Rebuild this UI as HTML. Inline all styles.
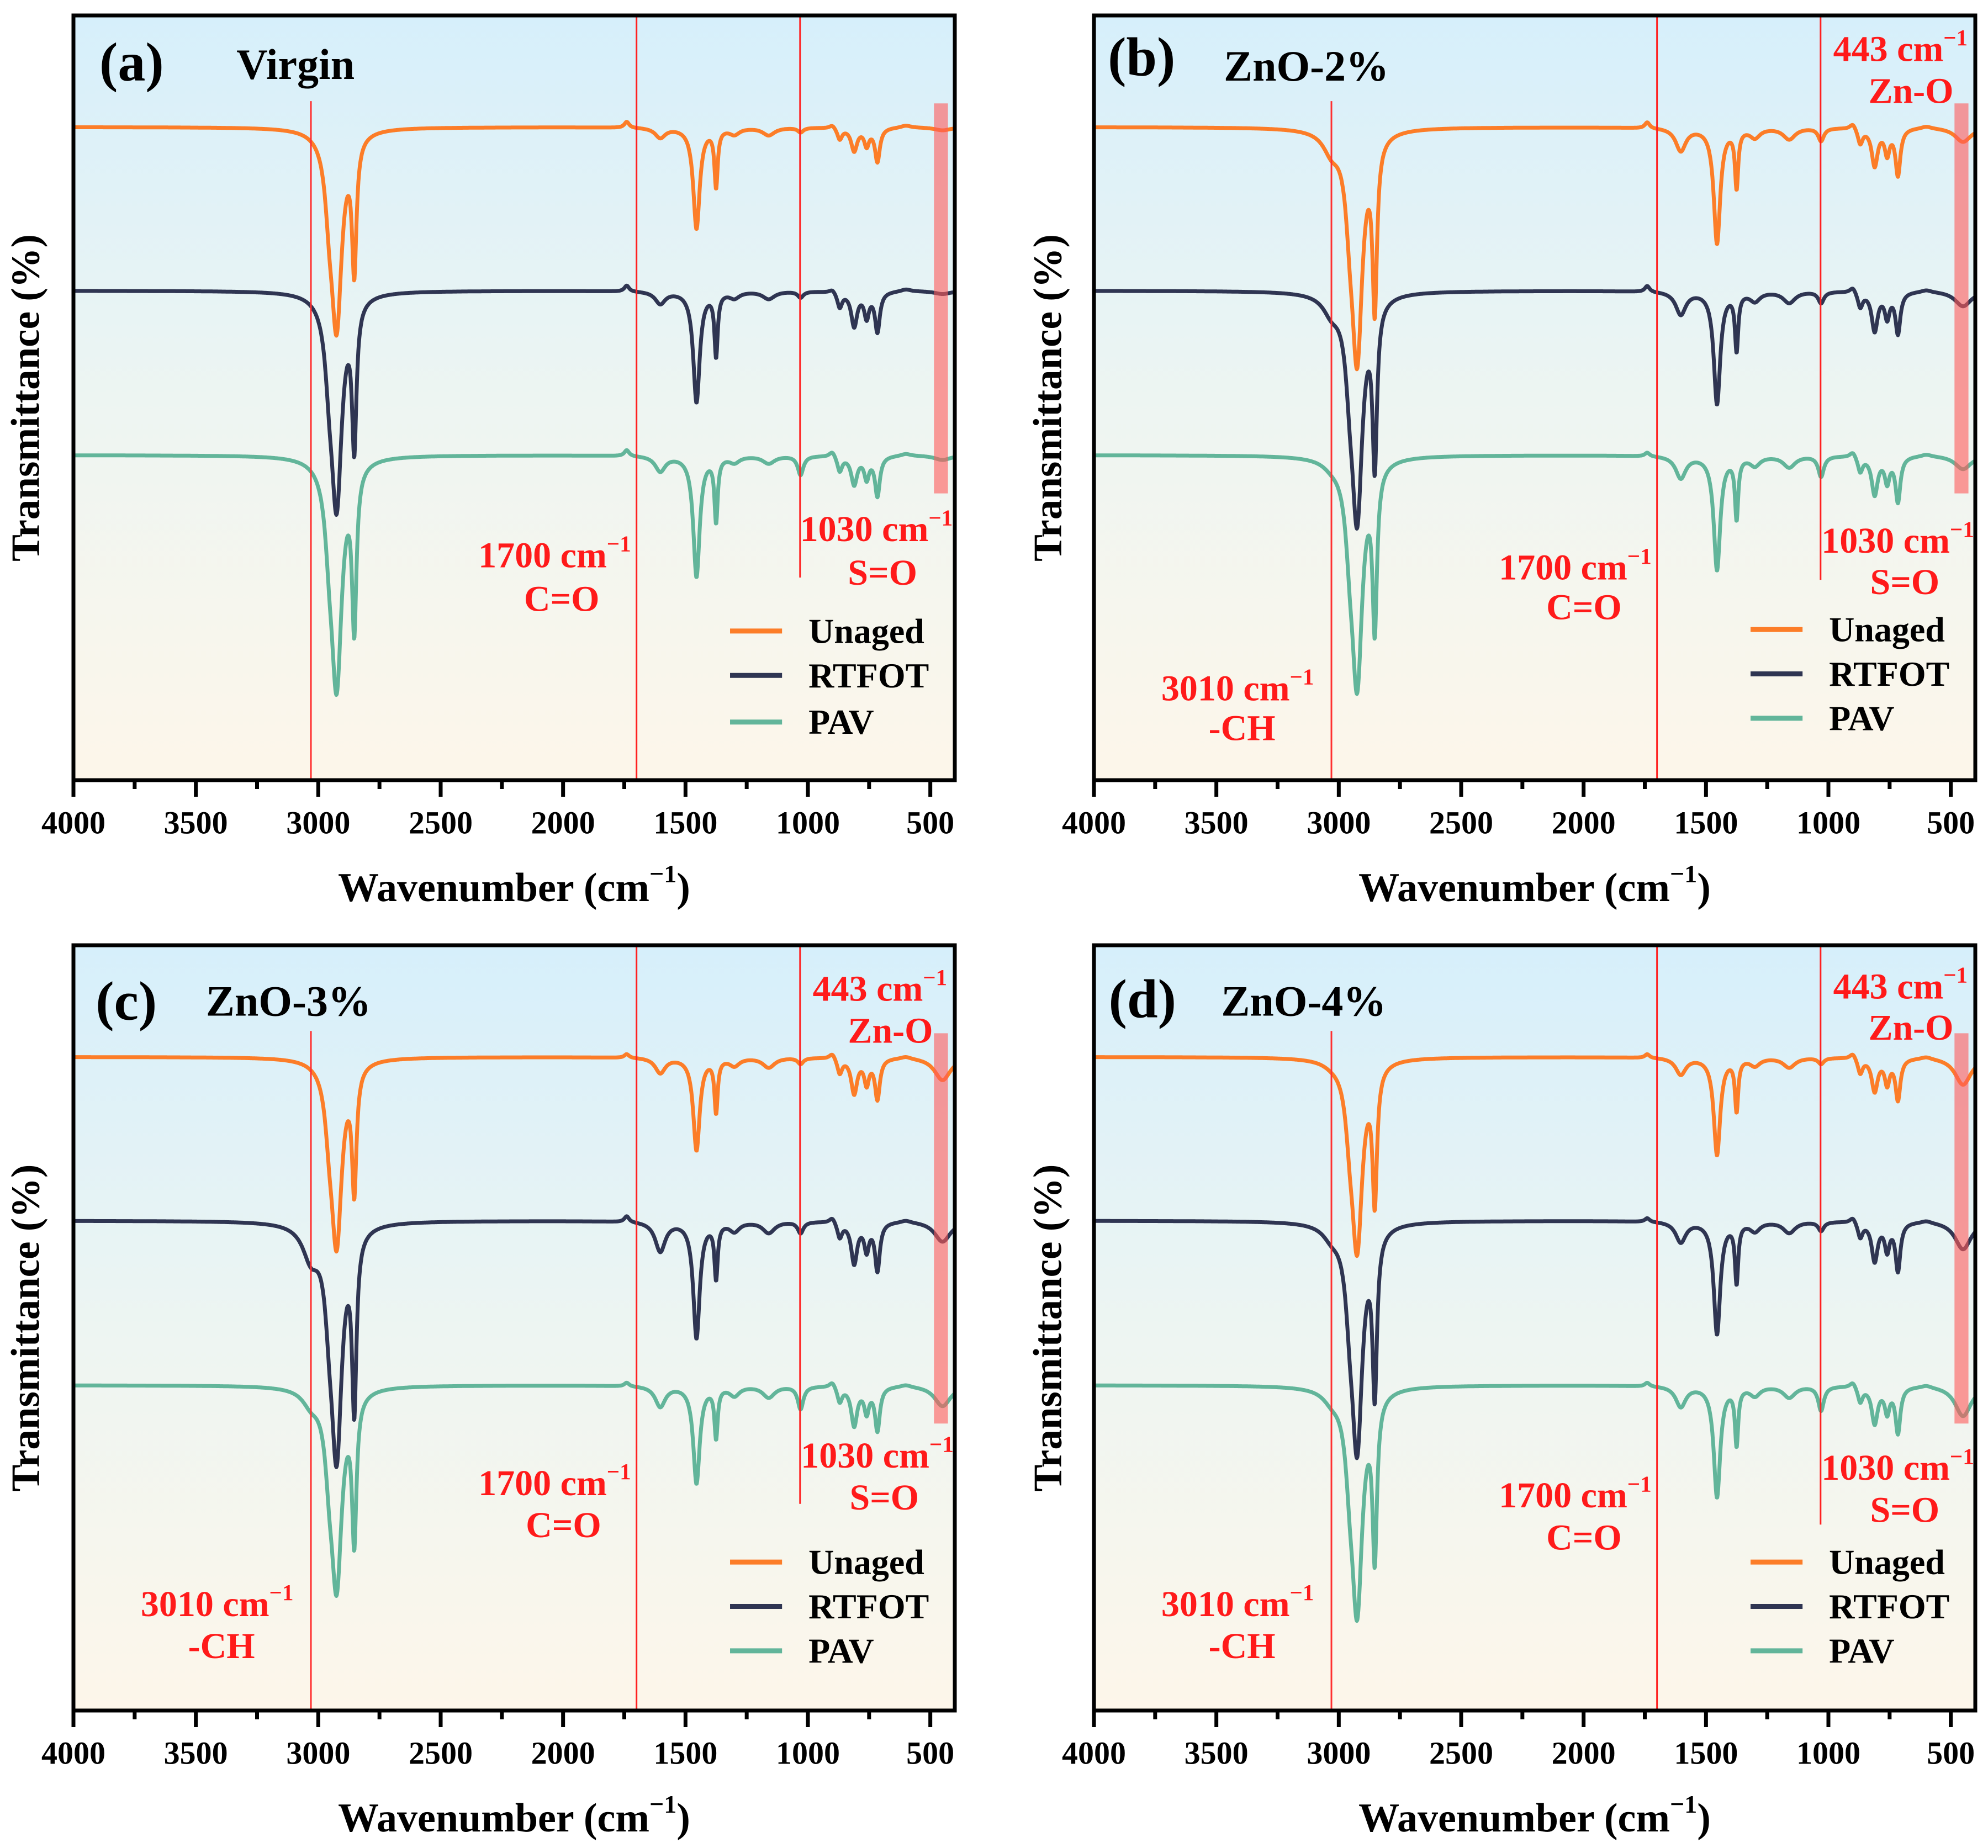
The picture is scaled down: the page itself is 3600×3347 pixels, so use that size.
<!DOCTYPE html>
<html><head><meta charset="utf-8"><title>FTIR spectra</title>
<style>html,body{margin:0;padding:0;background:#fff}svg{display:block}</style></head>
<body>
<svg id="fig" xmlns="http://www.w3.org/2000/svg" width="3600" height="3347" viewBox="0 0 3600 3347" font-family="'Liberation Serif', serif" font-weight="bold">
<defs>
<linearGradient id="bg" x1="0" y1="0" x2="0" y2="1">
<stop offset="0" stop-color="#d6effb"/><stop offset="0.5" stop-color="#edf5f2"/><stop offset="1" stop-color="#fdf6ea"/>
</linearGradient>
</defs>
</svg>
<script>
// shared peak centers (cm-1) and half widths
const peakCenters = [3030, 2955, 2925, 2853, 1740, 1603, 1455, 1375, 1300, 1160, 1030, 900, 870, 811, 760, 716, 600, 450];
const peakWidths  = [40, 20, 26, 11, 12, 25, 16, 8, 25, 30, 14, 15, 12, 15, 12, 12, 25, 40];
const seriesNames = ["Unaged", "RTFOT", "PAV"];
const seriesBaselines = [85.4, 64, 42.5];
const xTicks = [4000, 3500, 3000, 2500, 2000, 1500, 1000, 500];
const xMinorTicks = [3750, 3250, 2750, 2250, 1750, 1250, 750];
// depths per panel per series
const depthA_Unaged = [0, 6, 25, 17, -0.8, 1.3, 13.2, 7.5, 0.8, 1, 0.6, -0.5, 1.5, 3.0, 2.2, 4.4, -0.3, 0.4];
const depthA_RTFOT  = [0, 6, 27, 18.5, -0.8, 1.6, 14.5, 8.2, 0.8, 1, 0.8, -0.5, 2, 4.5, 3.2, 5.2, -0.3, 0.4];
const depthA_PAV    = [0, 6, 29, 20.5, -0.8, 2, 15.8, 8.3, 0.8, 1, 2.5, -0.8, 2, 3.7, 2.8, 5.2, -0.3, 0.6];
const depthB_Unaged = [2.3, 6, 29, 21.5, -0.8, 3, 15.1, 7.5, 1.2, 1.5, 1.7, -0.8, 2, 4.9, 3.2, 6.1, -0.3, 1.9];
const depthB_RTFOT  = [2, 6, 28.5, 20.7, -0.8, 3, 14.7, 7.4, 1.2, 1.5, 1.5, -0.8, 2, 5.1, 3.2, 5.4, -0.3, 2];
const depthB_PAV    = [0.6, 6, 28.8, 20.5, -0.5, 2.9, 14.9, 7.9, 1.2, 1.5, 2.7, -0.8, 2, 5.0, 3.2, 5.9, -0.3, 1.8];
const depthC_Unaged = [0, 5, 23.5, 15.8, -0.5, 2, 12.1, 6.9, 1, 1.3, 0.8, -0.8, 2, 4.6, 3.2, 5.3, -0.3, 3];
const depthC_RTFOT  = [4, 6, 29.3, 22.3, -0.8, 3.9, 15.2, 7.1, 1.2, 1.5, 1.5, -0.8, 2, 5.4, 3.5, 6.3, -0.3, 2.7];
const depthC_PAV    = [1.7, 6, 25, 18.5, -0.5, 2.7, 12.7, 6.5, 1.2, 1.5, 3, -0.8, 2, 5.1, 3.2, 5.7, -0.3, 2.7];
const depthD_Unaged = [0.3, 5, 24, 17.2, -0.5, 2.2, 12.7, 6.7, 1, 1.3, 0.8, -0.8, 2, 4.3, 3.2, 5.4, -0.3, 3.6];
const depthD_RTFOT  = [1.3, 6, 28.5, 20.5, -0.5, 2.7, 14.7, 7.7, 1.2, 1.5, 1.2, -0.8, 2, 5.1, 3.5, 6.3, -0.3, 3.7];
const depthD_PAV    = [1.1, 6, 28.3, 20.4, -0.5, 2.7, 14.5, 7.4, 1.2, 1.5, 3.2, -0.8, 2, 4.8, 3.2, 6.0, -0.3, 4];

const NS = "http://www.w3.org/2000/svg";
const svg = document.getElementById("fig");
const colors = ["#fc7d28", "#2f3552", "#62b59a"];
const XMAX = 4000, XMIN = 400;
const ANN = 66;

const panels = [
  {id:"a", L:133, T:28, R:1729, B:1413, ytx:46, title:"Virgin", depths:[depthA_Unaged, depthA_RTFOT, depthA_PAV],
   lab:[0.066,0.061], tit:[0.252,0.064], show3010:false, show443:false, line1030End:0.735,
   t1700:[0.546,0.706,0.554,0.763], t1030:[0.911,0.672,0.918,0.729], leg:[0.805,0.863,0.924]},
  {id:"b", L:1981, T:28, R:3577, B:1413, ytx:1897, title:"ZnO-2%", depths:[depthB_Unaged, depthB_RTFOT, depthB_PAV],
   lab:[0.054,0.054], tit:[0.241,0.066], show3010:true, show443:true, line1030End:0.738,
   t443:[0.915,0.044,0.927,0.099], t3010:[0.163,0.88,0.168,0.932],
   t1700:[0.546,0.722,0.556,0.774], t1030:[0.912,0.687,0.92,0.741], leg:[0.803,0.861,0.919]},
  {id:"c", L:133, T:1712, R:1729, B:3098, ytx:46, title:"ZnO-3%", depths:[depthC_Unaged, depthC_RTFOT, depthC_PAV],
   lab:[0.06,0.073], tit:[0.244,0.073], show3010:true, show443:true, line1030End:0.73,
   t443:[0.915,0.057,0.927,0.112], t3010:[0.163,0.861,0.168,0.916],
   t1700:[0.546,0.703,0.556,0.758], t1030:[0.912,0.667,0.92,0.722], leg:[0.806,0.864,0.922]},
  {id:"d", L:1981, T:1712, R:3577, B:3098, ytx:1897, title:"ZnO-4%", depths:[depthD_Unaged, depthD_RTFOT, depthD_PAV],
   lab:[0.055,0.07], tit:[0.238,0.073], show3010:true, show443:true, line1030End:0.757,
   t443:[0.915,0.054,0.927,0.108], t3010:[0.163,0.861,0.168,0.916],
   t1700:[0.546,0.719,0.556,0.774], t1030:[0.912,0.683,0.92,0.738], leg:[0.806,0.864,0.922]}
];

function mk(tag, attrs, parent){
  const e = document.createElementNS(NS, tag);
  for (const k in attrs) e.setAttribute(k, attrs[k]);
  (parent||svg).appendChild(e);
  return e;
}
function txt(s, x, y, size, fill, parent, anchor){
  const t = mk("text", {x:x, y:y, "font-size":size, fill:fill||"#000", "text-anchor":anchor||"middle", "dominant-baseline":"central"}, parent);
  t.textContent = s;
  return t;
}
function cmText(num, x, y, size, parent){
  const t = mk("text", {x:x, y:y, "font-size":size, fill:"#ff1a1a", "text-anchor":"middle", "dominant-baseline":"central"}, parent);
  t.appendChild(document.createTextNode(num + " cm"));
  const s = mk("tspan", {"font-size":size*0.62, dy:-size*0.32}, t);
  s.textContent = "\u22121";
  return t;
}

panels.forEach(p => {
  const W = p.R - p.L, H = p.B - p.T;
  const xs = wn => p.L + (XMAX - wn) / (XMAX - XMIN) * W;
  const ys = v => p.T + (100 - v) / 100 * H;
  const g = mk("g", {});
  
  

  const bgr = mk("rect", {x:p.L, y:p.T, width:W, height:H, fill:"url(#bg)"}, g);
  
  

  p.depths.forEach((dep, si) => {
    let d = "";
    for (let wn = XMAX; wn >= XMIN; wn -= 2) {
      let v = seriesBaselines[si];
      for (let k = 0; k < peakCenters.length; k++) {
        const u = (wn - peakCenters[k]) / peakWidths[k];
        v -= dep[k] / (1 + u * u);
      }
      d += (wn === XMAX ? "M" : "L") + xs(wn).toFixed(1) + "," + ys(v).toFixed(1);
    }
    const path = mk("path", {d:d, fill:"none", stroke:colors[si], "stroke-width":7, "stroke-linejoin":"round"}, g);
    
    
  });

  const l3 = mk("line", {x1:xs(3030), x2:xs(3030), y1:p.T + 0.112*H, y2:p.B, stroke:"#ff3030", "stroke-width":3}, g);
  
  
  const l17 = mk("line", {x1:xs(1700), x2:xs(1700), y1:p.T, y2:p.B, stroke:"#ff2020", "stroke-width":3}, g);
  
  
  const l10 = mk("line", {x1:xs(1032), x2:xs(1032), y1:p.T, y2:p.T + p.line1030End*H, stroke:"#ff2020", "stroke-width":3}, g);
  
  

  const band = mk("rect", {x:xs(485), y:p.T + 0.115*H, width:xs(428)-xs(485), height:0.51*H, fill:"#ff5a5a", "fill-opacity":0.6}, g);
  
  

  const fr = mk("rect", {x:p.L, y:p.T, width:W, height:H, fill:"none", stroke:"#000", "stroke-width":7}, g);
  
  

  xTicks.forEach(t => {
    const tk = mk("line", {x1:xs(t), x2:xs(t), y1:p.B, y2:p.B + 30, stroke:"#000", "stroke-width":7}, g);
    
    
    const tl = txt(String(t), xs(t), p.B + 77, 58, "#000", g);
    
    
  });
  xMinorTicks.forEach(t => {
    const tk = mk("line", {x1:xs(t), x2:xs(t), y1:p.B, y2:p.B + 16, stroke:"#000", "stroke-width":7}, g);
    
    
  });

  const xt = mk("text", {x:(p.L+p.R)/2, y:p.B + 195, "font-size":74, "text-anchor":"middle", "dominant-baseline":"central"}, g);
  xt.appendChild(document.createTextNode("Wavenumber (cm"));
  const sup = mk("tspan", {"font-size":46, dy:-26}, xt);
  sup.textContent = "\u22121";
  const close = mk("tspan", {dy:26}, xt);
  close.textContent = ")";
  
  

  const yt = txt("Transmittance (%)", p.ytx, (p.T+p.B)/2, 73, "#000", g);
  yt.setAttribute("transform", "rotate(-90 " + p.ytx + " " + (p.T+p.B)/2 + ")");
  
  

  const pl = txt("(" + p.id + ")", p.L + p.lab[0]*W, p.T + p.lab[1]*H, 100, "#000", g);
  
  
  const pt = txt(p.title, p.L + p.tit[0]*W, p.T + p.tit[1]*H, 78, "#000", g);
  
  

  const a1 = cmText("1700", p.L + p.t1700[0]*W, p.T + p.t1700[1]*H, ANN, g);
  
  
  const a1b = txt("C=O", p.L + p.t1700[2]*W, p.T + p.t1700[3]*H, ANN, "#ff1a1a", g);
  
  
  const a2 = cmText("1030", p.L + p.t1030[0]*W, p.T + p.t1030[1]*H, ANN, g);
  
  
  const a2b = txt("S=O", p.L + p.t1030[2]*W, p.T + p.t1030[3]*H, ANN, "#ff1a1a", g);
  
  
  if (p.show443) {
    const a3 = cmText("443", p.L + p.t443[0]*W, p.T + p.t443[1]*H, ANN, g);
    
    
    const a3b = txt("Zn-O", p.L + p.t443[2]*W, p.T + p.t443[3]*H, ANN, "#ff1a1a", g);
    
    
  }
  if (p.show3010) {
    const a4 = cmText("3010", p.L + p.t3010[0]*W, p.T + p.t3010[1]*H, ANN, g);
    
    
    const a4b = txt("-CH", p.L + p.t3010[2]*W, p.T + p.t3010[3]*H, ANN, "#ff1a1a", g);
    
    
  }

  seriesNames.forEach((n, si) => {
    const y = p.T + p.leg[si]*H;
    const ll = mk("line", {x1:p.L + 0.745*W, x2:p.L + 0.804*W, y1:y, y2:y, stroke:colors[si], "stroke-width":9}, g);
    
    
    const lt = txt(n, p.L + 0.834*W, y, 64, "#000", g, "start");
    
    
  });
});
</script>
</body></html>
